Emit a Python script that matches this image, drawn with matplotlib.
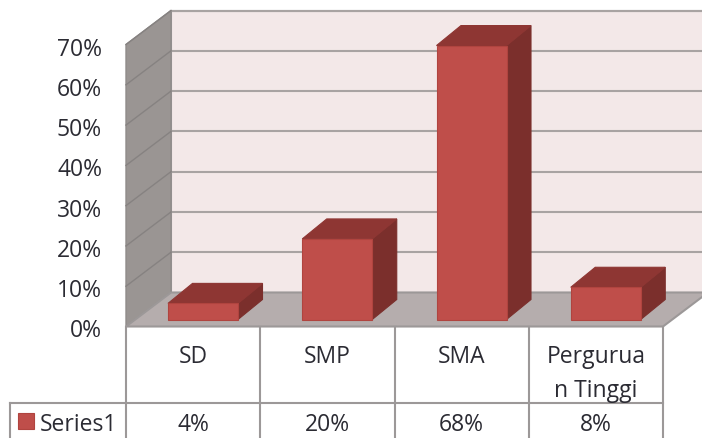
import matplotlib
matplotlib.use("Agg")
import matplotlib.pyplot as plt
from matplotlib.patches import Polygon, Rectangle

plt.rcParams['font.family'] = ['Open Sans', 'DejaVu Sans']

categories = ["SD", "SMP", "SMA", "Pergurua\nn Tinggi"]
values = [4, 20, 68, 8]
value_labels = ["4%", "20%", "68%", "8%"]
y_ticks = [0, 10, 20, 30, 40, 50, 60, 70]
series_name = "Series1"

W, H = 702, 439
left, right, y0, y70 = 126, 663, 327.5, 45.5

fig = plt.figure(figsize=(W / 100, H / 100), dpi=100)
ax = fig.add_axes([left / W, 1 - y0 / H, (right - left) / W, (y0 - y70) / H])
ax.set_xlim(0, 4)
ax.set_ylim(0, 70)
ax.axis("off")

# pixels per data unit
sx = (right - left) / 4
sy = (y0 - y70) / 70
depth_x = 45 / sx
depth_y = 34 / sy

line_col = "#9c9898"
txt_col = "#2b2b33"
fs = 16.5


def poly(pts, fc, ec=None, lw=0.8, z=1):
    ax.add_patch(Polygon(pts, closed=True, fc=fc, ec=ec or fc, lw=lw, zorder=z, clip_on=False))


# back wall, side wall, floor
poly([(depth_x, depth_y), (4 + depth_x, depth_y), (4 + depth_x, 70 + depth_y), (depth_x, 70 + depth_y)],
     "#f3e8e8", line_col, 1.5)
poly([(0, 0), (depth_x, depth_y), (depth_x, 70 + depth_y), (0, 70)], "#9a9593", "#8f8b8a", 1.0, 2)
poly([(0, 0), (4, 0), (4 + depth_x, depth_y), (depth_x, depth_y)], "#b5adad", line_col, 1.5, 2)

for t in y_ticks:
    if t > 0:
        ax.plot([depth_x, 4 + depth_x], [t + depth_y, t + depth_y], color="#a8a3a2", lw=1.5, zorder=1.5, clip_on=False)
        ax.plot([0, depth_x], [t, t + depth_y], color="#868281", lw=1.0, zorder=3, clip_on=False)
    ax.text(-24 / sx, t - 1 / sy, f"{t}%", ha="right", va="center_baseline", fontsize=fs, color=txt_col, clip_on=False)

# bars
bar_w = 70 / sx
off_x = 42 / sx
off_y = 7 / sy
bar_dx = 24.5 / sx
bar_dy = 20 / sy
for i, v in enumerate(values):
    x1 = i + off_x
    x2 = x1 + bar_w
    b = off_y
    poly([(x1, b), (x2, b), (x2, b + v), (x1, b + v)], "#bf4e4a", "#b0443f", 0.8, 5)
    poly([(x2, b), (x2 + bar_dx, b + bar_dy), (x2 + bar_dx, b + v + bar_dy), (x2, b + v)], "#7b2f2c", z=4)
    poly([(x1, b + v), (x2, b + v), (x2 + bar_dx, b + v + bar_dy), (x1 + bar_dx, b + v + bar_dy)], "#8e3633", z=4)

# data table under the chart
row_y = -76 / sy
bottom = -(H - y0) / sy
for i in range(5):
    ax.plot([i, i], [0, bottom], color=line_col, lw=1.5, clip_on=False, zorder=2)
ax.plot([-116 / sx, 4], [row_y, row_y], color=line_col, lw=1.5, clip_on=False, zorder=2)
ax.plot([-116 / sx, -116 / sx], [row_y, bottom], color=line_col, lw=1.5, clip_on=False, zorder=2)

for i, c in enumerate(categories):
    if "\n" in c:
        ax.text(i + 0.5, -27 / sy, c.split("\n")[0], ha="center", va="center_baseline", fontsize=fs, color=txt_col, clip_on=False)
        ax.text(i + 0.5, -61 / sy, c.split("\n")[1], ha="center", va="center_baseline", fontsize=fs, color=txt_col, clip_on=False)
    else:
        ax.text(i + 0.5, -27 / sy, c, ha="center", va="center_baseline", fontsize=fs, color=txt_col, clip_on=False)
    ax.text(i + 0.5, -95 / sy, value_labels[i], ha="center", va="center_baseline", fontsize=fs, color=txt_col, clip_on=False)

ax.add_patch(Rectangle((-108 / sx, -102 / sy), 16 / sx, 16 / sy, fc="#bf4e4a", ec="#b0443f", lw=0.8, clip_on=False))
ax.text(-86 / sx, -95 / sy, series_name, ha="left", va="center_baseline", fontsize=fs, color=txt_col, clip_on=False)

fig.savefig("out.png", dpi=100, facecolor="white")
